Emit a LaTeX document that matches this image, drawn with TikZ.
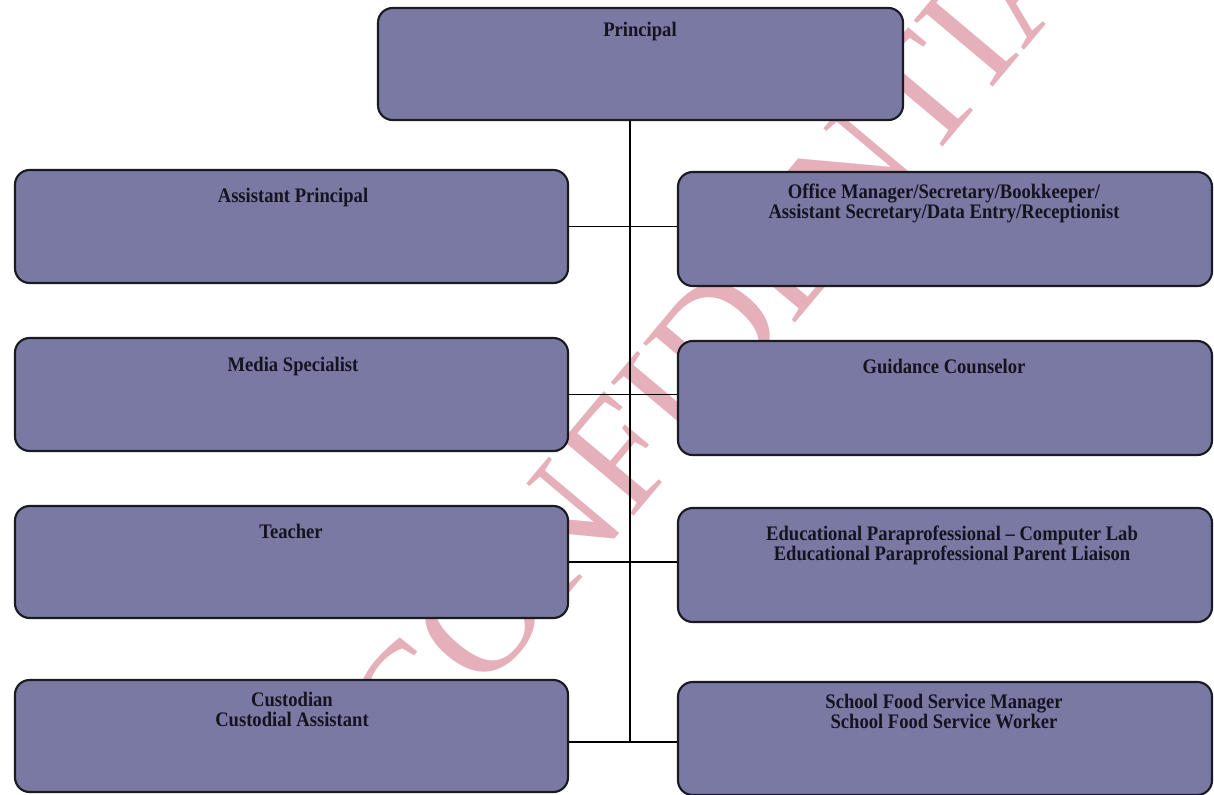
\documentclass[tikz,border=0pt]{standalone}
\usepackage{fontspec}
\setmainfont{Liberation Serif}
\newfontfamily\boxfont[FakeStretch=0.9]{Liberation Serif}
\newfontfamily\markfont{Liberation Serif}
\usetikzlibrary{fit}

\definecolor{boxfill}{RGB}{122,121,163}
\definecolor{boxline}{RGB}{26,26,34}
\definecolor{inkdark}{RGB}{20,20,32}
\definecolor{markpink}{RGB}{230,176,186}

\tikzset{
  orgbox/.style={draw=boxline, line width=1.6pt, fill=boxfill,
                 rounded corners=11pt, inner sep=0pt},
  orglabel/.style={font=\boxfont\bfseries\fontsize{15.5}{15}\selectfont,
                   text=inkdark, align=center, anchor=north, inner sep=0pt},
  link/.style={draw=black, line width=1.1pt},
  stamp/.style={font=\markfont\fontsize{118}{118}\selectfont,
                text=markpink, inner sep=0pt},
}

\begin{document}
\begin{tikzpicture}[x=0.75pt, y=-0.75pt]
  \useasboundingbox (0,0) rectangle (1214,795);
  \clip (0,0) rectangle (1214,795);

  % watermark across the page
  \node[stamp, rotate=50] (stampword) at (748,300) {CONFIDENTIAL};

  % trunk end on the bottom row
  \coordinate (trunk) at (630,742);

  % boxes
  \node[orgbox, fit={(378,8) (903,120)}]    (pr) {};
  \node[orgbox, fit={(15,170) (568,283)}]   (ap) {};
  \node[orgbox, fit={(678,172) (1212,286)}] (om) {};
  \node[orgbox, fit={(15,338) (568,451)}]   (ms) {};
  \node[orgbox, fit={(678,341) (1212,455)}] (gc) {};
  \node[orgbox, fit={(15,506) (568,618)}]   (te) {};
  \node[orgbox, fit={(678,508) (1212,622)}] (ed) {};
  \node[orgbox, fit={(15,680) (568,792)}]   (cu) {};
  \node[orgbox, fit={(678,682) (1212,795)}] (fs) {};

  % box titles
  \node[orglabel] (prt) at (640,22)  {Principal};
  \node[orglabel] (apt) at (293,188) {Assistant Principal};
  \node[orglabel] (omt) at (944,184) {Office Manager/Secretary/Bookkeeper/\\Assistant Secretary/Data Entry/Receptionist};
  \node[orglabel] (mst) at (293,357) {Media Specialist};
  \node[orglabel] (gct) at (944,359) {Guidance Counselor};
  \node[orglabel] (tet) at (291,524) {Teacher};
  \node[orglabel] (edt) at (952,526) {Educational Paraprofessional – Computer Lab\\Educational Paraprofessional Parent Liaison};
  \node[orglabel] (cut) at (292,692) {Custodian\\Custodial Assistant};
  \node[orglabel] (fst) at (944,694) {School Food Service Manager\\School Food Service Worker};

  % connectors
  \draw[link] (pr.south -| trunk) -- (trunk);
  \draw[link] (ap.east) -- (ap.east -| om.west);
  \draw[link] (ms.east) -- (ms.east -| gc.west);
  \draw[link] (te.east) -- (te.east -| ed.west);
  \draw[link] (cu.east |- trunk) -- (trunk -| fs.west);
\end{tikzpicture}
\end{document}
